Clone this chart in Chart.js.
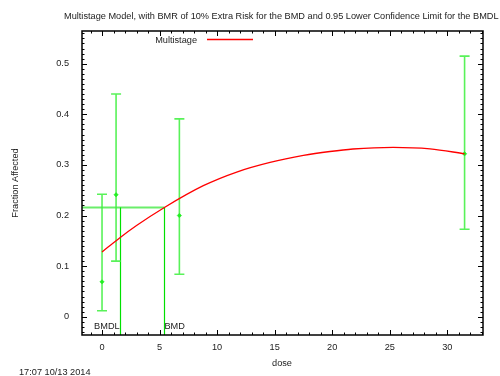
<!DOCTYPE html>
<html>
<head>
<meta charset="utf-8">
<script src="https://cdn.jsdelivr.net/npm/chart.js@4"></script>
<style>
html,body{margin:0;padding:0;background:#fff;}
#wrap{width:500px;height:376px;position:relative;}
</style>
</head>
<body>
<div id="wrap"><canvas id="c" width="500" height="376"></canvas></div>
<script>
// ---- data ----
const doses = [0, 1.22, 6.72, 31.5];
const observed = [0.069, 0.241, 0.200, 0.322];
const lowerCI = [0.012, 0.110, 0.084, 0.173];
const upperCI = [0.242, 0.440, 0.391, 0.515];

const curveDose = [0, 1.5, 3, 5.42, 8.8, 11.7, 14.6, 17.5, 19.8, 21.8, 25.3, 28.5, 31.5];
const curveFrac = [0.128, 0.1553, 0.1803, 0.216, 0.259, 0.286, 0.305, 0.3188, 0.3265, 0.3315, 0.3348, 0.3318, 0.322];

const bmrLevel = 0.216;
const bmd = 5.42;
const bmdl = 1.53;

const xTicks = [0, 5, 10, 15, 20, 25, 30];
const yTicks = [0, 0.1, 0.2, 0.3, 0.4, 0.5];
const xRange = [-1.74, 33.1];
const yRange = [-0.036, 0.5646];

const titleText = "Multistage Model, with BMR of 10% Extra Risk for the BMD and 0.95 Lower Confidence Limit for the BMDL";
const stamp = "17:07 10/13 2014";

const FONT = '9.2px "Liberation Sans", Arial, sans-serif';
const TXT = '#222';

const decor = {
  id: 'decor',
  beforeDatasetsDraw(chart) {
    const ctx = chart.ctx, xs = chart.scales.x, ys = chart.scales.y;
    const a = chart.chartArea;
    ctx.save();
    // BMR horizontal line and BMD/BMDL verticals
    const yB = ys.getPixelForValue(bmrLevel);
    ctx.strokeStyle = 'rgba(80,235,80,0.85)';
    ctx.lineWidth = 2;
    ctx.beginPath();
    ctx.moveTo(a.left, yB); ctx.lineTo(xs.getPixelForValue(bmd), yB);
    ctx.stroke();
    ctx.strokeStyle = '#00e000';
    ctx.lineWidth = 1.2;
    [bmdl, bmd].forEach(v => {
      const x = Math.round(xs.getPixelForValue(v)) + 0.5;
      ctx.beginPath(); ctx.moveTo(x, yB); ctx.lineTo(x, a.bottom); ctx.stroke();
    });
    // error bars
    ctx.strokeStyle = 'rgba(60,240,60,0.85)';
    ctx.lineWidth = 1.6;
    for (let i = 0; i < doses.length; i++) {
      const x = xs.getPixelForValue(doses[i]);
      const yl = ys.getPixelForValue(lowerCI[i]);
      const yu = ys.getPixelForValue(upperCI[i]);
      ctx.beginPath();
      ctx.moveTo(x, yl); ctx.lineTo(x, yu);
      ctx.moveTo(x - 5, yl); ctx.lineTo(x + 5, yl);
      ctx.moveTo(x - 5, yu); ctx.lineTo(x + 5, yu);
      ctx.stroke();
    }
    // BMD labels
    ctx.fillStyle = TXT;
    ctx.font = FONT;
    ctx.textBaseline = 'middle';
    const yl = ys.getPixelForValue(-0.02);
    ctx.textAlign = 'right';
    ctx.fillText('BMDL', xs.getPixelForValue(bmdl), yl);
    ctx.textAlign = 'left';
    ctx.fillText('BMD', xs.getPixelForValue(bmd), yl);
    ctx.restore();
  },
  afterDraw(chart) {
    const ctx = chart.ctx, xs = chart.scales.x, ys = chart.scales.y;
    const a = chart.chartArea;
    ctx.save();
    // border
    ctx.strokeStyle = '#000';
    ctx.lineWidth = 1.5;
    ctx.strokeRect(a.left, a.top, a.right - a.left, a.bottom - a.top);
    ctx.lineWidth = 1;
    ctx.beginPath();
    // x ticks (minor every 1)
    for (let v = Math.ceil(xRange[0]); v <= xRange[1]; v += 1) {
      const x = Math.round(xs.getPixelForValue(v)) + 0.5;
      const len = (v % 5 === 0) ? 5 : 2.5;
      ctx.moveTo(x, a.bottom); ctx.lineTo(x, a.bottom - len);
      ctx.moveTo(x, a.top); ctx.lineTo(x, a.top + len);
    }
    // y ticks (minor every 0.01)
    for (let k = Math.ceil(yRange[0] * 100); k <= yRange[1] * 100; k++) {
      const y = Math.round(ys.getPixelForValue(k / 100)) + 0.5;
      const len = (k % 10 === 0) ? 5 : 2.5;
      ctx.moveTo(a.left, y); ctx.lineTo(a.left + len, y);
      ctx.moveTo(a.right, y); ctx.lineTo(a.right - len, y);
    }
    ctx.stroke();
    // tick labels
    ctx.fillStyle = TXT;
    ctx.font = FONT;
    ctx.textBaseline = 'middle';
    ctx.textAlign = 'right';
    yTicks.forEach(v => ctx.fillText(v === 0 ? '0' : v.toFixed(1), a.left - 13, ys.getPixelForValue(v)));
    ctx.textAlign = 'center';
    xTicks.forEach(v => ctx.fillText(String(v), xs.getPixelForValue(v), a.bottom + 12));
    // axis titles
    ctx.fillText('dose', 282, 363);
    ctx.save();
    ctx.translate(15, 183);
    ctx.rotate(-Math.PI / 2);
    ctx.fillText('Fraction Affected', 0, 0);
    ctx.restore();
    // title
    ctx.textAlign = 'left';
    ctx.fillText(titleText, 64, 16);
    // timestamp
    ctx.fillText(stamp, 19, 372);
    // legend
    ctx.textAlign = 'right';
    ctx.fillText('Multistage', 197, 40);
    ctx.strokeStyle = '#ff0000';
    ctx.lineWidth = 1.3;
    ctx.beginPath(); ctx.moveTo(207, 39.5); ctx.lineTo(253, 39.5); ctx.stroke();
    ctx.restore();
  }
};

new Chart(document.getElementById('c'), {
  type: 'scatter',
  data: {
    datasets: [
      {
        label: 'Multistage',
        data: curveDose.map((d, i) => ({x: d, y: curveFrac[i]})),
        showLine: true,
        borderColor: '#ff0000',
        borderWidth: 1.3,
        pointRadius: 0,
        cubicInterpolationMode: 'monotone',
        fill: false
      },
      {
        label: 'Observed',
        data: doses.map((d, i) => ({x: d, y: observed[i]})),
        showLine: false,
        pointStyle: 'rectRot',
        pointRadius: 2.2,
        backgroundColor: '#22ee22',
        borderColor: '#22ee22',
        borderWidth: 0.5
      }
    ]
  },
  options: {
    responsive: false,
    animation: false,
    devicePixelRatio: 1,
    layout: { padding: { left: 82, right: 17, top: 31, bottom: 41 } },
    plugins: { legend: { display: false }, tooltip: { enabled: false }, title: { display: false } },
    scales: {
      x: { type: 'linear', display: false, min: xRange[0], max: xRange[1] },
      y: { type: 'linear', display: false, min: yRange[0], max: yRange[1] }
    }
  },
  plugins: [decor]
});
</script>
</body>
</html>
